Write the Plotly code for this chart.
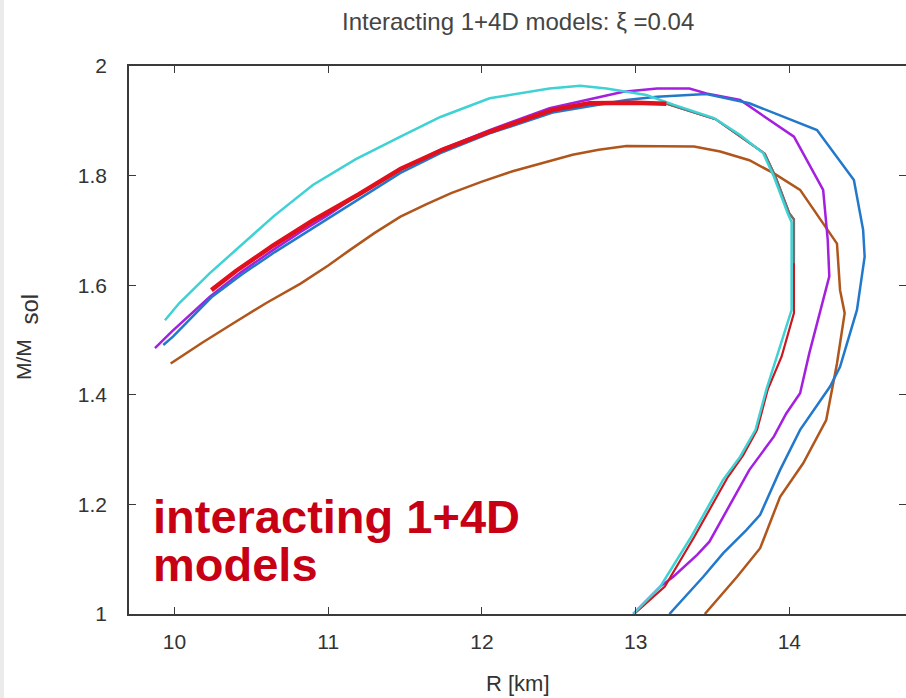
import plotly.graph_objects as go

# Mass-radius curves, R in km, M in solar masses
cyan_r = [9.938, 10.03, 10.23, 10.40, 10.65, 10.90, 11.18, 11.47, 11.73, 12.05, 12.44, 12.64,
          12.81, 13.07, 13.25, 13.51, 13.68, 13.83, 13.90, 13.99, 14.015, 14.015, 13.94, 13.85,
          13.78, 13.68, 13.57, 13.36, 13.16, 12.985]
cyan_m = [1.536, 1.567, 1.622, 1.664, 1.727, 1.783, 1.830, 1.871, 1.907, 1.941, 1.959, 1.964,
          1.959, 1.947, 1.929, 1.905, 1.874, 1.841, 1.798, 1.731, 1.715, 1.555, 1.488, 1.409,
          1.336, 1.287, 1.245, 1.140, 1.050, 1.0]

purple_r = [9.873, 9.98, 10.23, 10.43, 10.64, 10.82, 11.00, 11.23, 11.47, 11.73, 12.05, 12.44,
            12.92, 13.14, 13.35, 13.46, 13.68, 14.03, 14.22, 14.25, 14.26, 14.20, 14.13, 14.07,
            13.98, 13.90, 13.74, 13.48, 13.40, 13.245, 13.16, 12.985]
purple_m = [1.485, 1.515, 1.579, 1.623, 1.664, 1.697, 1.728, 1.772, 1.812, 1.847, 1.883, 1.923,
            1.953, 1.959, 1.959, 1.950, 1.938, 1.871, 1.774, 1.682, 1.616, 1.549, 1.476, 1.403,
            1.366, 1.324, 1.263, 1.132, 1.108, 1.068, 1.050, 1.0]

blue_r = [9.927, 9.99, 10.24, 10.44, 10.65, 10.83, 11.00, 11.24, 11.47, 11.73, 12.05, 12.46,
          12.94, 13.14, 13.46, 13.74, 14.18, 14.42, 14.48, 14.49, 14.44, 14.33, 14.265, 14.07,
          13.94, 13.81, 13.72, 13.57, 13.44, 13.22]
blue_m = [1.491, 1.506, 1.578, 1.620, 1.660, 1.692, 1.722, 1.765, 1.805, 1.841, 1.877, 1.915,
          1.938, 1.944, 1.949, 1.932, 1.883, 1.792, 1.701, 1.652, 1.555, 1.451, 1.415, 1.336,
          1.263, 1.181, 1.153, 1.111, 1.068, 1.0]

brown_r = [9.975, 10.18, 10.38, 10.60, 10.82, 11.00, 11.14, 11.30, 11.47, 11.64, 11.80, 12.00,
           12.20, 12.40, 12.59, 12.76, 12.94, 13.38, 13.55, 13.74, 13.90, 14.07, 14.265, 14.31,
           14.33, 14.36, 14.31, 14.24, 14.09, 13.94, 13.81, 13.66, 13.45]
brown_m = [1.457, 1.495, 1.530, 1.568, 1.603, 1.636, 1.664, 1.695, 1.725, 1.748, 1.768, 1.789,
           1.808, 1.824, 1.838, 1.847, 1.854, 1.853, 1.844, 1.828, 1.804, 1.774, 1.695, 1.676,
           1.591, 1.549, 1.457, 1.354, 1.275, 1.214, 1.120, 1.068, 1.0]

red_thick_r = [10.24, 10.40, 10.64, 10.90, 11.20, 11.47, 11.75, 12.05, 12.46, 12.70, 13.00, 13.20]
red_thick_m = [1.591, 1.626, 1.672, 1.718, 1.766, 1.812, 1.848, 1.880, 1.920, 1.932, 1.933, 1.931]

red_thin_r = [13.20, 13.52, 13.84, 13.91, 14.00, 14.03, 14.03, 13.95, 13.86, 13.79, 13.70,
              13.60, 13.38, 13.19, 12.99]
red_thin_m = [1.931, 1.903, 1.840, 1.798, 1.731, 1.720, 1.549, 1.470, 1.410, 1.336, 1.290,
              1.250, 1.140, 1.050, 1.0]

gray_r = [13.20, 13.52, 13.84, 13.91, 14.00, 14.03, 14.03]
gray_m = [1.931, 1.903, 1.840, 1.798, 1.731, 1.720, 1.640]

x_ticks = [10, 11, 12, 13, 14]
y_ticks = [1, 1.2, 1.4, 1.6, 1.8, 2]
y_tick_text = ["1", "1.2", "1.4", "1.6", "1.8", "2"]

FONT = "Liberation Sans, Arial, sans-serif"
AXIS_COLOR = "#3a3a3a"
TEXT_COLOR = "#333333"

fig = go.Figure()


def add_curve(r, m, color, width):
    fig.add_trace(go.Scatter(x=r, y=m, mode="lines", showlegend=False,
                             line=dict(color=color, width=width), hoverinfo="skip"))


add_curve(brown_r, brown_m, "#b0561c", 2.5)
add_curve(purple_r, purple_m, "#a41fe0", 2.5)
add_curve(blue_r, blue_m, "#2279cc", 2.5)
add_curve(red_thin_r, red_thin_m, "#c81820", 2.2)
add_curve(gray_r, gray_m, "#707070", 2.2)
add_curve(cyan_r, cyan_m, "#3ed2d4", 2.5)
add_curve(red_thick_r, red_thick_m, "#e0101c", 4.5)

# right-hand tick marks without a border line
fig.add_trace(go.Scatter(x=[None], y=[None], yaxis="y2", showlegend=False, hoverinfo="skip"))

fig.update_layout(
    width=906, height=698,
    margin=dict(l=129, r=0, t=66, b=84, pad=0),
    paper_bgcolor="white", plot_bgcolor="white",
    font=dict(family=FONT, color=TEXT_COLOR),
    xaxis=dict(range=[9.704, 14.759], tickvals=x_ticks, ticktext=[str(v) for v in x_ticks],
               ticks="inside", ticklen=7, tickwidth=1.2, tickcolor=AXIS_COLOR,
               showline=True, linecolor=AXIS_COLOR, linewidth=1.6, mirror="ticks",
               showgrid=False, zeroline=False, tickfont=dict(size=21, color=TEXT_COLOR),
               ticklabelstandoff=8),
    yaxis=dict(range=[1, 2], tickvals=y_ticks, ticktext=y_tick_text,
               ticks="inside", ticklen=7, tickwidth=1.2, tickcolor=AXIS_COLOR,
               showline=True, linecolor=AXIS_COLOR, linewidth=1.6, mirror=False,
               showgrid=False, zeroline=False, tickfont=dict(size=21, color=TEXT_COLOR),
               ticklabelstandoff=16),
    yaxis2=dict(range=[1, 2], overlaying="y", side="right", anchor="x", tickvals=y_ticks,
                ticks="inside", ticklen=7, tickwidth=1.2, tickcolor=AXIS_COLOR,
                showticklabels=False, showline=False, showgrid=False, zeroline=False),
    shapes=[dict(type="rect", xref="paper", yref="paper",
                 x0=-129 / 777, x1=-125 / 777, y0=-84 / 548, y1=632 / 548,
                 fillcolor="#ebebeb", line=dict(width=0), layer="below")],
    annotations=[
        dict(text="Interacting 1+4D models: ξ =0.04", xref="paper", yref="paper",
             x=0.5, y=1 + 44 / 548, xanchor="center", yanchor="middle", showarrow=False,
             font=dict(size=24, color="#444444", family=FONT)),
        dict(text="R [km]", xref="paper", yref="paper", x=0.5, y=-69 / 548,
             xanchor="center", yanchor="middle", showarrow=False,
             font=dict(size=22, color=TEXT_COLOR, family=FONT)),
        dict(text="M/M", xref="paper", yref="paper", x=-106 / 777, y=254 / 548,
             xanchor="center", yanchor="middle", textangle=-90, showarrow=False,
             font=dict(size=21, color=TEXT_COLOR, family=FONT)),
        dict(text="sol", xref="paper", yref="paper", x=-100.5 / 777, y=305 / 548,
             xanchor="center", yanchor="middle", textangle=-90, showarrow=False,
             font=dict(size=24, color=TEXT_COLOR, family=FONT)),
        dict(text="<b>interacting 1+4D</b>", xref="paper", yref="paper", x=22 / 777,
             y=98 / 548, xanchor="left", yanchor="middle", showarrow=False,
             font=dict(size=47, color="#c80014", family=FONT)),
        dict(text="<b>models</b>", xref="paper", yref="paper", x=22 / 777,
             y=50 / 548, xanchor="left", yanchor="middle", showarrow=False,
             font=dict(size=47, color="#c80014", family=FONT)),
    ],
)

fig.write_html("out.html")
